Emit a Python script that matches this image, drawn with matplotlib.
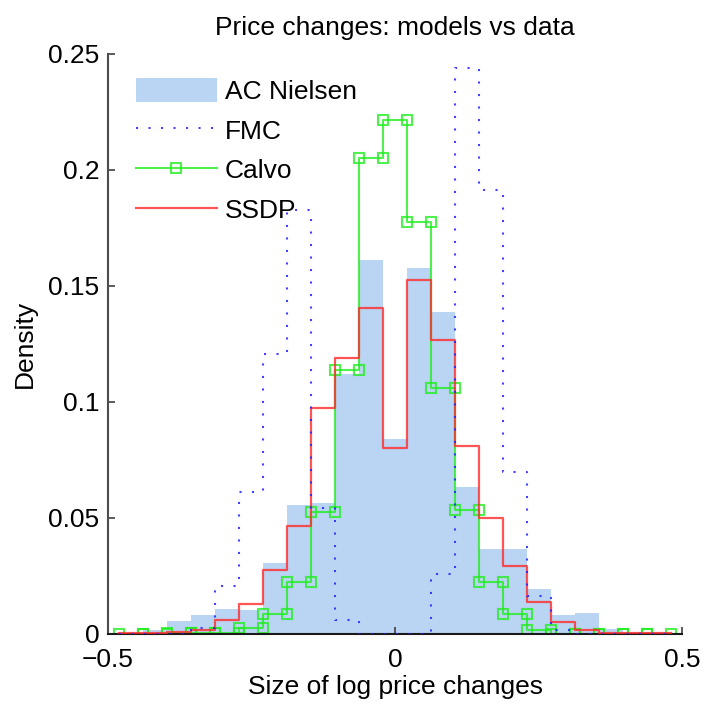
import numpy as np
import matplotlib
matplotlib.use('Agg')
import matplotlib.pyplot as plt

plt.rcParams['font.family'] = ['Liberation Sans', 'DejaVu Sans']

# bin edges of the histograms (23 bins)
edges = np.linspace(-0.48, 0.48, 24)

# densities, one per bin
ac_nielsen = [0.0005, 0.0019, 0.0055, 0.008, 0.0106, 0.0105, 0.0305, 0.0555,
              0.0563, 0.112, 0.161, 0.0839, 0.1576, 0.1386, 0.0632, 0.0365,
              0.0365, 0.0193, 0.008, 0.0089, 0.002, 0.001, 0.001]
fmc = [0, 0, 0, 0.0026, 0.0207, 0.0612, 0.1207, 0.1828, 0.0543, 0.006, 0, 0,
       0, 0.0259, 0.244, 0.1914, 0.0698, 0.0164, 0.0018, 0, 0, 0, 0]
calvo = [0, 0.0002, 0.0003, 0.0003, 0.0005, 0.0024, 0.0086, 0.0224, 0.0526,
         0.1138, 0.2052, 0.2216, 0.1775, 0.106, 0.0533, 0.0224, 0.0086,
         0.0017, 0.0002, 0.0002, 0.0002, 0.0002, 0.0002]
ssdp = [0.0003, 0.0003, 0.001, 0.0017, 0.0062, 0.0129, 0.0276, 0.0466,
        0.0974, 0.119, 0.1405, 0.0802, 0.1526, 0.1267, 0.081, 0.05, 0.0293,
        0.0138, 0.0052, 0.0019, 0.0005, 0.0005, 0.0003]

labels = ['AC Nielsen', 'FMC', 'Calvo', 'SSDP']
xticks = [-0.5, 0, 0.5]
xticklabels = ['\u22120.5', '0', '0.5']
yticks = [0, 0.05, 0.1, 0.15, 0.2, 0.25]
yticklabels = ['0', '0.05', '0.1', '0.15', '0.2', '0.25']


def steps(vals):
    # each bin becomes a flat segment between its two edges
    xs = np.repeat(edges, 2)[1:-1]
    ys = np.repeat(np.asarray(vals, dtype=float), 2)
    return xs, ys


fig = plt.figure(figsize=(7.05, 7.11), dpi=100)
ax = fig.add_axes([0.1528, 0.1083, 0.815, 0.8158])

centers = (edges[:-1] + edges[1:]) / 2
width = edges[1] - edges[0]
bars = ax.bar(centers, ac_nielsen, width=width, color='#bad4f3', linewidth=0,
              zorder=1)

x, y = steps(fmc)
l_fmc, = ax.plot(x, y, color='#2020ff', linestyle=(0, (1, 5)), linewidth=1.5,
                 alpha=0.85, zorder=4)

x, y = steps(calvo)
l_calvo, = ax.plot(x, y, color='#22ee22', linewidth=1.5, alpha=0.8,
                   marker='s', markersize=7, markerfacecolor='none',
                   markeredgewidth=1.5, zorder=2)

x, y = steps(ssdp)
l_ssdp, = ax.plot(x, y, color='#ff2a2a', linewidth=1.6, alpha=0.8, zorder=3)

# legend in the order of the original, calvo with one marker in the middle
leg = ax.legend([bars, l_fmc, l_calvo, l_ssdp], labels, loc='upper left',
                bbox_to_anchor=(0.021, 0.985), frameon=False, fontsize=19,
                handlelength=3.07, handleheight=1.0, labelspacing=0.52,
                handletextpad=0.3, borderaxespad=0.2, numpoints=1)

ax.set_xlim(-0.5, 0.5)
ax.set_ylim(0, 0.25)
ax.set_xticks(xticks)
ax.set_xticklabels(xticklabels)
ax.set_yticks(yticks)
ax.set_yticklabels(yticklabels)
ax.tick_params(direction='in', length=5, width=1.2, labelsize=19,
               color='0.25', pad=6)
ax.tick_params(axis='x', pad=10)

for s in ['top', 'right']:
    ax.spines[s].set_visible(False)
ax.spines['left'].set_color('0.3')
ax.spines['left'].set_linewidth(1.5)
ax.spines['bottom'].set_color('0.1')
ax.spines['bottom'].set_linewidth(1.5)

ax.set_title('Price changes: models vs data', fontsize=19, pad=14)
ax.set_xlabel('Size of log price changes', fontsize=19, labelpad=2)
ax.set_ylabel('Density', fontsize=19, labelpad=8)

plt.savefig('out.png', dpi=100)
